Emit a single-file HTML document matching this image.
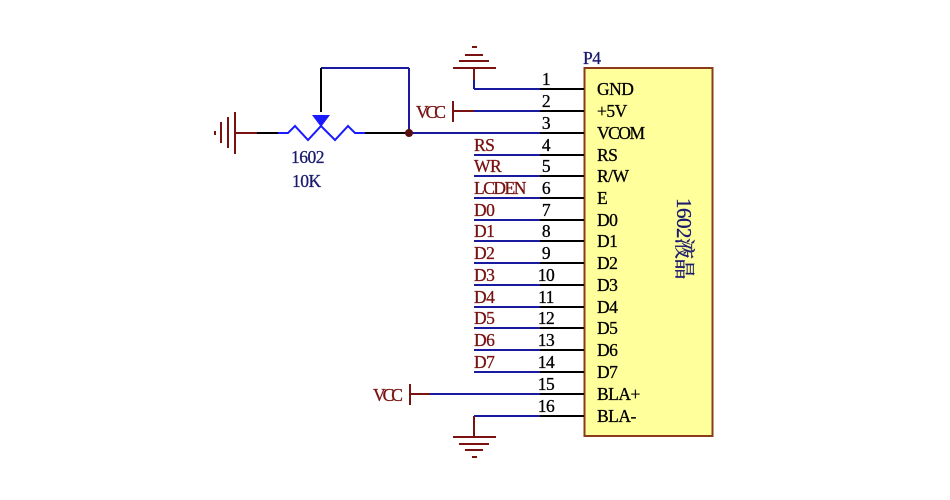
<!DOCTYPE html>
<html><head><meta charset="utf-8"><style>
body{margin:0;background:#fff}
svg{display:block}
text{font-family:"Liberation Serif","Noto Serif CJK SC",serif;font-size:17.5px;letter-spacing:-0.5px}
.r{fill:#7a1212;stroke:#7a1212;stroke-width:0.3}.b{fill:#1a1a6e;stroke:#1a1a6e;stroke-width:0.3}.k{fill:#000;stroke:#000;stroke-width:0.3}
</style></head><body>
<svg width="950" height="500" viewBox="0 0 950 500" xmlns="http://www.w3.org/2000/svg">
<rect x="584.5" y="68" width="128" height="368" fill="#ffff9c" stroke="#8b3a1a" stroke-width="2"/>
<text x="583" y="64" class="b">P4</text>
<g stroke-width="2" fill="none">
<line x1="474" y1="89" x2="540" y2="89" stroke="#1a1aa0"/><line x1="540" y1="89" x2="584" y2="89" stroke="#000"/>
<line x1="453" y1="111" x2="474" y2="111" stroke="#7a1212"/><line x1="474" y1="111" x2="540" y2="111" stroke="#1a1aa0"/><line x1="540" y1="111" x2="584" y2="111" stroke="#000"/>
<line x1="409" y1="133" x2="540" y2="133" stroke="#1a1aa0"/><line x1="540" y1="133" x2="584" y2="133" stroke="#000"/>
<line x1="474" y1="155" x2="540" y2="155" stroke="#1a1aa0"/><line x1="540" y1="155" x2="584" y2="155" stroke="#000"/>
<line x1="474" y1="176" x2="540" y2="176" stroke="#1a1aa0"/><line x1="540" y1="176" x2="584" y2="176" stroke="#000"/>
<line x1="474" y1="198" x2="540" y2="198" stroke="#1a1aa0"/><line x1="540" y1="198" x2="584" y2="198" stroke="#000"/>
<line x1="474" y1="220" x2="540" y2="220" stroke="#1a1aa0"/><line x1="540" y1="220" x2="584" y2="220" stroke="#000"/>
<line x1="474" y1="241" x2="540" y2="241" stroke="#1a1aa0"/><line x1="540" y1="241" x2="584" y2="241" stroke="#000"/>
<line x1="474" y1="263" x2="540" y2="263" stroke="#1a1aa0"/><line x1="540" y1="263" x2="584" y2="263" stroke="#000"/>
<line x1="474" y1="285" x2="540" y2="285" stroke="#1a1aa0"/><line x1="540" y1="285" x2="584" y2="285" stroke="#000"/>
<line x1="474" y1="307" x2="540" y2="307" stroke="#1a1aa0"/><line x1="540" y1="307" x2="584" y2="307" stroke="#000"/>
<line x1="474" y1="328" x2="540" y2="328" stroke="#1a1aa0"/><line x1="540" y1="328" x2="584" y2="328" stroke="#000"/>
<line x1="474" y1="350" x2="540" y2="350" stroke="#1a1aa0"/><line x1="540" y1="350" x2="584" y2="350" stroke="#000"/>
<line x1="474" y1="372" x2="540" y2="372" stroke="#1a1aa0"/><line x1="540" y1="372" x2="584" y2="372" stroke="#000"/>
<line x1="410" y1="394" x2="430" y2="394" stroke="#7a1212"/><line x1="430" y1="394" x2="540" y2="394" stroke="#1a1aa0"/><line x1="540" y1="394" x2="584" y2="394" stroke="#000"/>
<line x1="474" y1="416" x2="540" y2="416" stroke="#1a1aa0"/><line x1="540" y1="416" x2="584" y2="416" stroke="#000"/>
<line x1="474" y1="89" x2="474" y2="68" stroke="#1a1aa0"/>
<line x1="474" y1="80" x2="474" y2="68" stroke="#7a1212"/>
<line x1="453" y1="68" x2="496" y2="68" stroke="#7a1212"/>
<line x1="459" y1="61" x2="489" y2="61" stroke="#7a1212"/>
<line x1="465" y1="55" x2="483" y2="55" stroke="#7a1212"/>
<line x1="472" y1="47" x2="477" y2="47" stroke="#7a1212"/>
<line x1="474" y1="416" x2="474" y2="437" stroke="#7a1212"/>
<line x1="453" y1="437" x2="496" y2="437" stroke="#7a1212"/>
<line x1="459" y1="444" x2="489" y2="444" stroke="#7a1212"/>
<line x1="465" y1="450" x2="483" y2="450" stroke="#7a1212"/>
<line x1="472" y1="457" x2="477" y2="457" stroke="#7a1212"/>
<line x1="453" y1="101" x2="453" y2="122" stroke="#7a1212"/>
<line x1="410" y1="384" x2="410" y2="405" stroke="#7a1212"/>
<line x1="235" y1="112" x2="235" y2="154" stroke="#7a1212"/>
<line x1="228" y1="117" x2="228" y2="148" stroke="#7a1212"/>
<line x1="221" y1="122" x2="221" y2="143" stroke="#7a1212"/>
<line x1="215" y1="131" x2="215" y2="135" stroke="#7a1212"/>
<line x1="235" y1="133" x2="257" y2="133" stroke="#7a1212"/>
<line x1="257" y1="133" x2="278" y2="133" stroke="#000"/>
<polyline points="278,133 288,133 295,126 308,140 321,126 335,140 348,126 355,133 365,133" stroke="#1a1aff"/>
<line x1="365" y1="133" x2="409" y2="133" stroke="#000"/>
<line x1="321" y1="68" x2="409" y2="68" stroke="#1a1aa0"/>
<line x1="409" y1="68" x2="409" y2="133" stroke="#1a1aa0"/>
<line x1="321" y1="68" x2="321" y2="112" stroke="#000"/>
</g>
<polygon points="312,115 330,115 321,127" fill="#1a1aff"/>
<circle cx="409" cy="133" r="4" fill="#5a1010"/>
<text x="291" y="163" class="b">1602</text>
<text x="292" y="187" class="b">10K</text>
<text x="416" y="118" class="r" style="letter-spacing:-3px">VCC</text>
<text x="373" y="401" class="r" style="letter-spacing:-3px">VCC</text>
<g class="r">
<text x="474" y="151">RS</text><text x="474" y="172">WR</text><text x="474" y="194" style="letter-spacing:-1.5px">LCDEN</text>
<text x="474" y="216">D0</text><text x="474" y="237">D1</text><text x="474" y="259">D2</text><text x="474" y="281">D3</text>
<text x="474" y="303">D4</text><text x="474" y="324">D5</text><text x="474" y="346">D6</text><text x="474" y="368">D7</text>
</g>
<g class="k" text-anchor="middle">
<text x="546" y="85">1</text><text x="546" y="107">2</text><text x="546" y="129">3</text><text x="546" y="151">4</text>
<text x="546" y="172">5</text><text x="546" y="194">6</text><text x="546" y="216">7</text><text x="546" y="237">8</text>
<text x="546" y="259">9</text><text x="546" y="281">10</text><text x="546" y="303">11</text><text x="546" y="324">12</text>
<text x="546" y="346">13</text><text x="546" y="368">14</text><text x="546" y="390">15</text><text x="546" y="412">16</text>
</g>
<g class="k">
<text x="597" y="95">GND</text><text x="597" y="117">+5V</text><text x="597" y="139" style="letter-spacing:-1.5px">VCOM</text>
<text x="597" y="161">RS</text><text x="597" y="182">R/W</text><text x="597" y="204">E</text>
<text x="597" y="226">D0</text><text x="597" y="247">D1</text><text x="597" y="269">D2</text><text x="597" y="291">D3</text>
<text x="597" y="313">D4</text><text x="597" y="334">D5</text><text x="597" y="356">D6</text><text x="597" y="378">D7</text>
<text x="597" y="400">BLA+</text><text x="597" y="422">BLA-</text>
</g>
<text transform="translate(677,198) rotate(90)" class="b" style="font-size:21px">1602液晶</text>
</svg>
</body></html>
